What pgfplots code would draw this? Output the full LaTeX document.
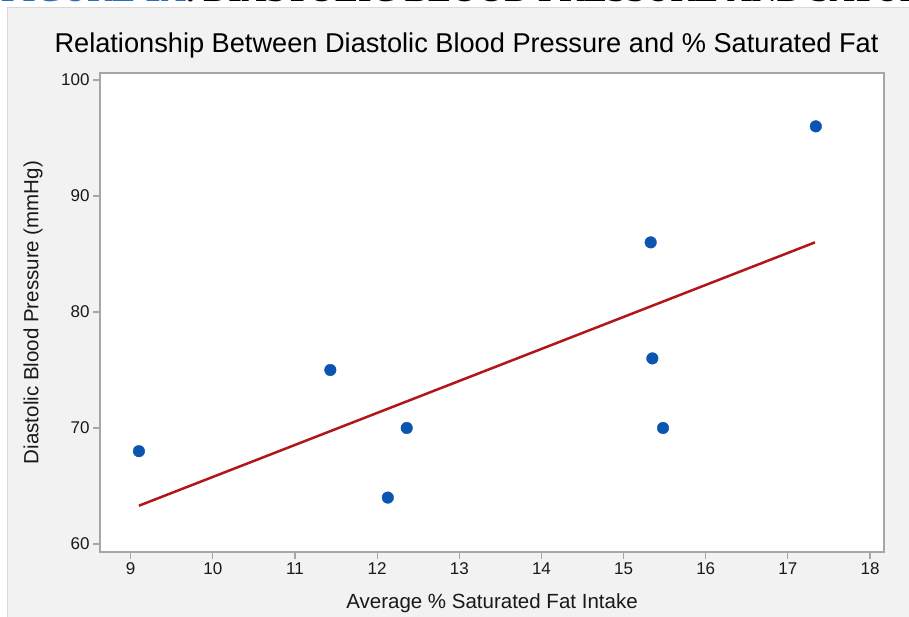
\documentclass[border=0pt]{standalone}
\usepackage{pgfplots}
\pgfplotsset{compat=1.18}
\usepackage{fontspec}
\setmainfont{Liberation Sans}
\newfontfamily\serifbold{Liberation Serif}
\definecolor{panel}{HTML}{F2F2F2}
\definecolor{ptblue}{HTML}{0B55B0}
\definecolor{fitred}{HTML}{B2161A}
\definecolor{axgray}{HTML}{A6A6A6}
\definecolor{hdrblue}{HTML}{2A6EBB}
\begin{document}
\begin{tikzpicture}
% image px -> pt: x_pt = x_img - 100, y_pt = 552 - y_img
\begin{scope}
\clip (-100pt,-64pt) rectangle (809pt,552pt);
\fill[white] (-100pt,-64pt) rectangle (809pt,552pt);
\draw[fill=panel, draw=black!15, line width=1pt] (-92pt,-80pt) rectangle (830pt,544pt);
\node[anchor=base west, inner sep=0, font=\serifbold\bfseries\fontsize{34.5}{36}\selectfont] at (-99pt,550.5pt) {\textcolor{hdrblue}{FIGURE 1A}. DIASTOLIC BLOOD PRESSURE AND SATURATED FAT};
\end{scope}
\begin{axis}[
  at={(0pt,0pt)}, anchor=south west,
  scale only axis, width=784pt, height=479pt,
  xmin=8.626, xmax=18.17, ymin=59.31, ymax=100.6,
  xtick={9,10,...,18}, ytick={60,70,80,90,100},
  tick align=outside, xtick pos=bottom, ytick pos=left,
  major tick length=7pt,
  axis line style={axgray, line width=1.2pt},
  tick style={axgray, line width=1.2pt},
  axis background/.style={fill=white},
  /pgf/number format/assume math mode=true,
  tick label style={font=\fontsize{17}{20}\selectfont, text=black!90},
  xlabel={Average \% Saturated Fat Intake},
  ylabel={Diastolic Blood Pressure (mmHg)},
  every axis x label/.style={at={(axis description cs:0.5,-0.1065)}, anchor=center, font=\fontsize{20.5}{24}\selectfont, text=black!90},
  every axis y label/.style={at={(axis description cs:-0.0855,0.5)}, anchor=center, rotate=90, font=\fontsize{20.5}{24}\selectfont, text=black!90},
  title={Relationship Between Diastolic Blood Pressure and \% Saturated Fat},
  every axis title/.style={at={(axis description cs:0.4675,1.0585)}, anchor=center, font=\fontsize{27.2}{30}\selectfont, text=black},
]
\addplot[fitred, line width=2.5pt] coordinates {(9.1,63.3) (17.33,86.0)};
\addplot[only marks, mark=*, mark size=5.8pt, color=ptblue] coordinates {
(9.10,68) (11.43,75) (12.13,64) (12.36,70) (15.33,86) (15.35,76) (15.48,70) (17.34,96)
};
\end{axis}
\pgfresetboundingbox
\path[use as bounding box] (-100pt,-64pt) rectangle (809pt,552pt);
\end{tikzpicture}
\end{document}
